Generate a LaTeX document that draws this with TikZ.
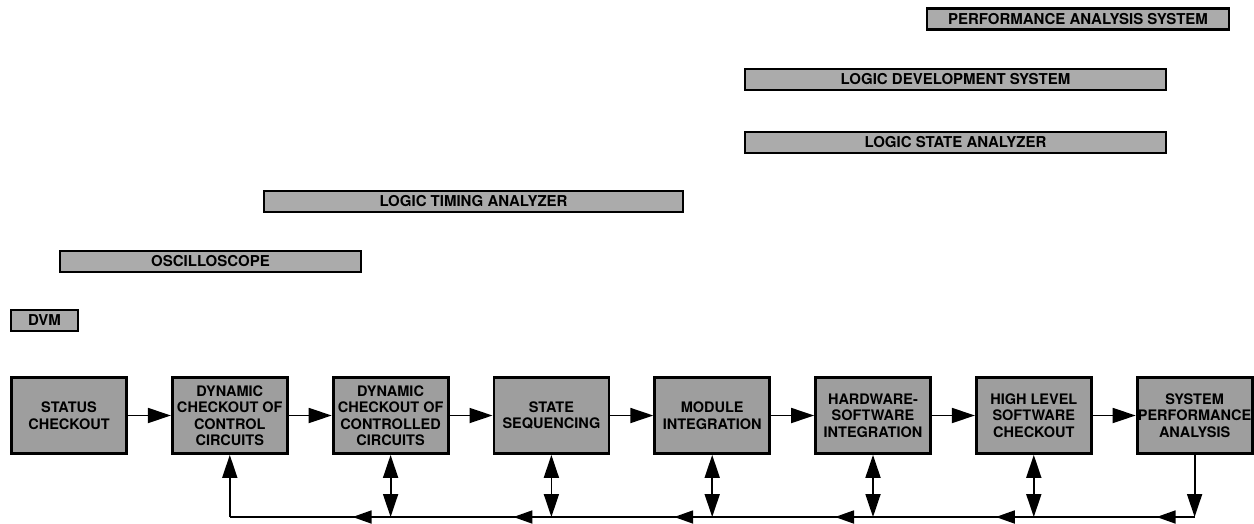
\documentclass[tikz,border=0pt]{standalone}
\usepackage{fontspec}
\setsansfont{TeX Gyre Heros}
\usetikzlibrary{positioning,arrows.meta}

\tikzset{
  stage/.style={draw, line width=2.8pt, fill=black!38, minimum width=115pt, minimum height=76pt,
    inner sep=0pt, align=center, font=\sffamily\bfseries\fontsize{14.5}{16.5}\selectfont},
  bar/.style={draw, line width=2.4pt, fill=black!33, minimum height=21pt, inner sep=0pt,
    font=\sffamily\bfseries\fontsize{15}{17}\selectfont},
  flow/.style={line width=1.8pt, -{Triangle[length=23pt,width=15pt]}},
  both/.style={line width=1.8pt, {Triangle[length=23pt,width=15pt]}-{Triangle[length=23pt,width=15pt]}},
  back/.style={line width=1.8pt, -{Triangle[length=19pt,width=13pt]}}
}

\begin{document}
\begin{tikzpicture}[x=1pt,y=-1pt]
  \useasboundingbox (0,0) rectangle (1254,523);

  % Instrument bars
  \node[bar, minimum width=67pt]  (dvm)  at (44.5,320.5) {DVM};
  \node[bar, minimum width=301pt] (osc)  at (210.5,261.5) {OSCILLOSCOPE};
  \node[bar, minimum width=419pt] (lta)  at (473.5,201.5) {LOGIC TIMING ANALYZER};
  \node[bar, minimum width=421pt] (lsa)  at (955.5,142.5) {LOGIC STATE ANALYZER};
  \node[bar, minimum width=421pt] (lds)  at (955.5,79.5) {LOGIC DEVELOPMENT SYSTEM};
  \node[bar, minimum width=302pt] (pas)  at (1078,19) {PERFORMANCE ANALYSIS SYSTEM};

  % Checkout stages
  \node[stage] (s1) at (69,415.5) {STATUS\\CHECKOUT};
  \node[stage, right=43pt of s1] (s2) {DYNAMIC\\CHECKOUT OF\\CONTROL\\CIRCUITS};
  \node[stage, right=43pt of s2] (s3) {DYNAMIC\\CHECKOUT OF\\CONTROLLED\\CIRCUITS};
  \node[stage, right=43pt of s3] (s4) {STATE\\SEQUENCING};
  \node[stage, right=43pt of s4] (s5) {MODULE\\INTEGRATION};
  \node[stage, right=43pt of s5] (s6) {HARDWARE-\\SOFTWARE\\INTEGRATION};
  \node[stage, right=43pt of s6] (s7) {HIGH LEVEL\\SOFTWARE\\CHECKOUT};
  \node[stage, right=43pt of s7] (s8) {SYSTEM\\PERFORMANCE\\ANALYSIS};

  % Forward flow
  \foreach \a/\b in {s1/s2,s2/s3,s3/s4,s4/s5,s5/s6,s6/s7,s7/s8}
    \draw[flow] (\a.east) -- (\b.west);

  % Feedback bus
  \coordinate (fb) at (0,517);
  \draw[line width=1.8pt] (s8 |- fb) -- (s2 |- fb);
  \draw[flow] (s8.south) -- (s8 |- fb);
  \draw[flow] (s2 |- fb) -- (s2.south);
  \foreach \i in {3,...,7}
    \draw[both] (s\i.south) -- (s\i |- fb);
  \foreach \i in {3,...,8}
    \draw[back] (s\i |- fb) -- ++(-38,0);
\end{tikzpicture}
\end{document}
